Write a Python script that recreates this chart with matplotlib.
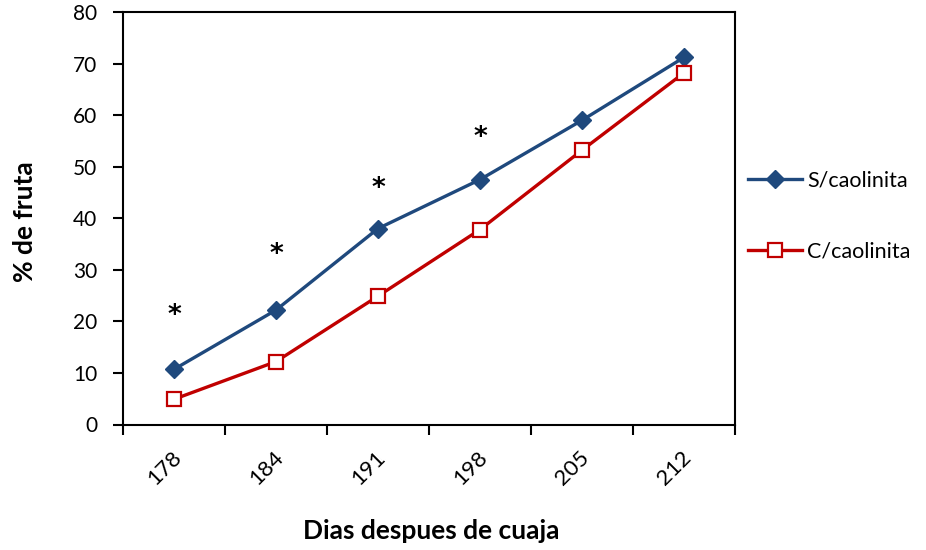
import matplotlib
matplotlib.use("Agg")
import matplotlib.pyplot as plt
from matplotlib.transforms import offset_copy

plt.rcParams['font.family'] = ['Lato', 'DejaVu Sans']

categories = ["178", "184", "191", "198", "205", "212"]
s_caolinita = [10.7, 22.2, 38.0, 47.5, 59.0, 71.2]
c_caolinita = [4.9, 12.2, 24.9, 37.8, 53.2, 68.2]
star_y = [21.0, 32.8, 45.6, 55.5]

blue = "#1F497D"
red = "#C00000"

fig = plt.figure(figsize=(9.26, 5.5), dpi=100)
ax = fig.add_axes([123/926, 1-424.5/550, (735-123)/926, (424.5-12)/550])

x = list(range(len(categories)))
ax.plot(x, s_caolinita, color=blue, lw=2.4, marker='D', ms=9,
        mfc=blue, mec=blue, label="S/caolinita", zorder=3)
ax.plot(x, c_caolinita, color=red, lw=2.4, marker='s', ms=10,
        mfc='white', mec=red, mew=1.6, label="C/caolinita", zorder=3)

for i, yv in enumerate(star_y):
    ax.text(x[i], yv, "*", ha='center', va='center', fontsize=19,
            fontweight='bold', color='black', family='DejaVu Sans')

ax.set_xlim(-0.5, len(categories) - 0.5)
ax.set_ylim(0, 80)
ax.set_yticks(range(0, 81, 10))
ax.tick_params(axis='y', labelsize=15, length=7.5, width=1.5, direction='out', pad=11)

ax.set_xticks([i - 0.5 for i in range(len(categories) + 1)])
ax.set_xticklabels([])
ax.tick_params(axis='x', length=7.5, width=1.5, direction='out')
for i, c in enumerate(categories):
    tr = offset_copy(ax.get_xaxis_transform(), fig=fig, x=4, y=-30, units='dots')
    ax.text(x[i], 0, c, transform=tr, rotation=45, ha='right', va='center',
            rotation_mode='anchor', fontsize=16)

for sp in ax.spines.values():
    sp.set_linewidth(1.5)

fig.text(25/926, 1-222/550, "% de fruta", rotation=90, ha='center', va='center',
         fontsize=19, fontweight='bold')
fig.text(431/926, 1-531/550, "Dias despues de cuaja", ha='center', va='center',
         fontsize=19, fontweight='bold')

leg = ax.legend(loc='center left', bbox_to_anchor=(1.0, 0.505), frameon=False,
                fontsize=15.5, handlelength=2.5, labelspacing=2.35, handletextpad=0.25,
                borderaxespad=0.2, borderpad=0.4)

fig.savefig("out.png", dpi=100)
